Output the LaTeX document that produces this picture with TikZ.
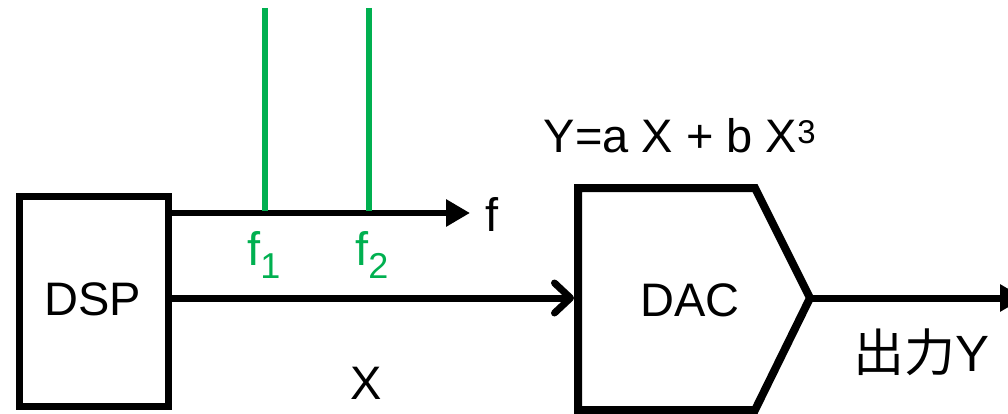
\documentclass[tikz,border=0pt]{standalone}
\usepackage{fontspec}
\setmainfont{Liberation Sans}
\newfontfamily\cjkfont{Noto Sans CJK JP}
\usetikzlibrary{arrows.meta}
\definecolor{sgreen}{HTML}{00B050}
\newcommand{\mysub}[1]{\raisebox{-13pt}{\fontsize{36}{40}\selectfont #1}}
\begin{document}
\begin{tikzpicture}[x=1pt,y=-1pt,
  txt/.style={inner sep=0pt,font=\fontsize{47}{56}\selectfont},
  blk/.style={draw=black,line width=7pt},
  conn/.style={draw=black,line width=6pt},
  gline/.style={draw=sgreen,line width=6pt}]
\useasboundingbox (0,0) rectangle (1008,414);
% DSP block
\node[blk,minimum width=149pt,minimum height=210pt,inner sep=0pt] (dsp) at (93.5,301) {};
\node[txt] (dsptxt) at (93,299) {DSP};
% DAC block
\coordinate (dtl) at (578,188);
\coordinate (dtr) at (755,188);
\coordinate (dtip) at (810,298);
\coordinate (dbr) at (755,410);
\coordinate (dbl) at (578,410);
\draw[blk,line width=8pt,line join=miter] (dtl) -- (dtr) -- (dtip) -- (dbr) -- (dbl) -- cycle;
\node[txt] (dactxt) at (690,300) {DAC};
\node[txt] (formula) at (680,136) {Y=a X + b X\textsuperscript{3}};
% frequency axis
\coordinate (fa0) at (dsp.north east |- 0,213);
\coordinate (fa1) at (470,213);
\draw[conn,-{Triangle[length=24pt,width=26pt]}] ([xshift=-3pt]fa0) -- (fa1);
\node[txt,anchor=west] (flab) at (485,214) {f};
% green lines
\coordinate (g1t) at (265,8);
\coordinate (g1b) at (265,211);
\coordinate (g2t) at (369,8);
\coordinate (g2b) at (369,211);
\draw[gline] (g1t) -- (g1b);
\draw[gline] (g2t) -- (g2b);
\node[txt,text=sgreen,anchor=base west] (f1) at (247,265) {f\mysub{1}};
\node[txt,text=sgreen,anchor=base west] (f2) at (355,265) {f\mysub{2}};
% signal arrow
\coordinate (sx0) at (dsp.east |- 0,298);
\coordinate (sx1) at (574,298);
\draw[conn,line width=7pt,-{Straight Barb[length=16pt,width=30pt,line width=7pt,round]}] ([xshift=-3pt]sx0) -- (sx1);
\node[txt] (xlab) at (366,383) {X};
% output
\coordinate (out) at (1024,298);
\draw[conn,line width=7pt,-{Triangle[length=24pt,width=26pt]}] (dtip) -- (out);
\node[txt,font=\fontsize{51}{60}\selectfont] (outlab) at (921,352) {{\cjkfont 出力}Y};
\end{tikzpicture}
\end{document}
